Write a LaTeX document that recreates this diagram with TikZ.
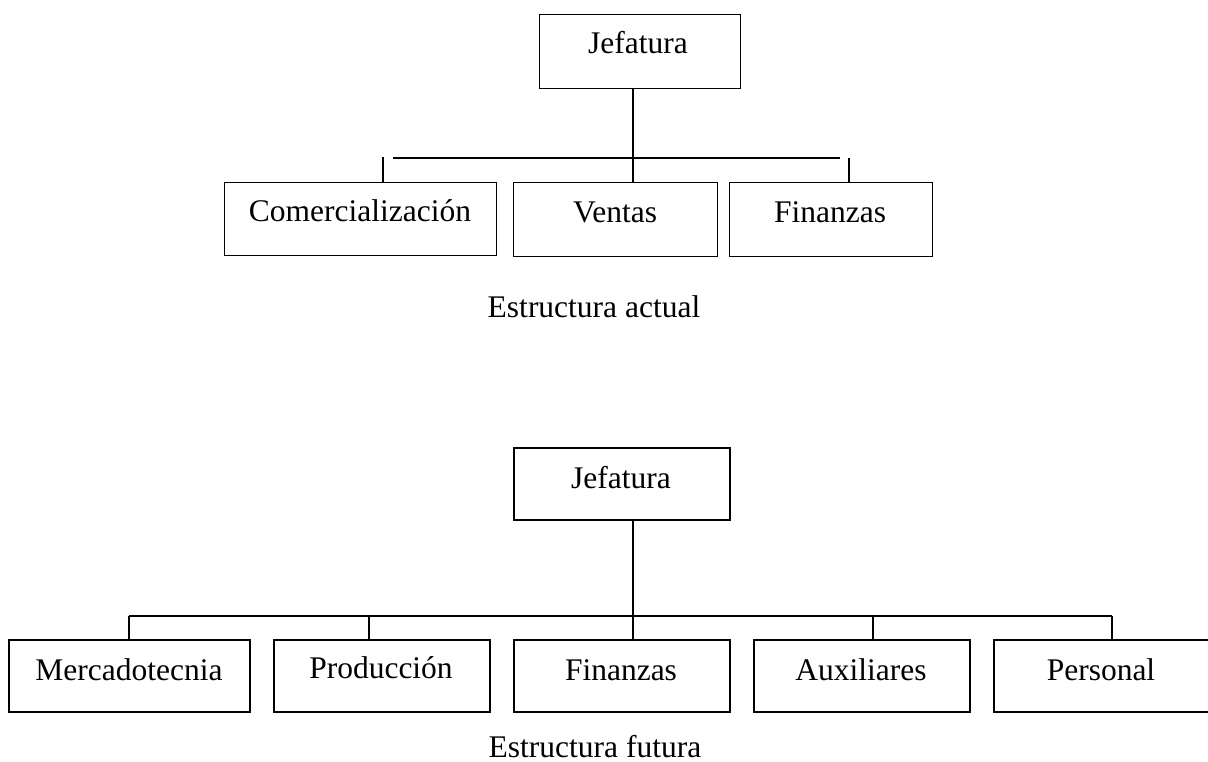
\documentclass[tikz,border=0pt]{standalone}
\usepackage{fontspec}
\setmainfont{Liberation Serif}
\begin{document}
\begin{tikzpicture}[x=1pt,y=-1pt,
  unitbox/.style n args={3}{draw, line width=#1, inner sep=0pt, anchor=north west,
    minimum width=#2, minimum height=#3},
  lbl/.style={anchor=base, inner sep=0pt, font=\fontsize{31.5}{36}\selectfont},
  linkA/.style={line width=1.2pt},
  linkB/.style={line width=1.5pt}]
% page
\fill[white] (0,0) rectangle (1208,762);
\useasboundingbox (0,0) rectangle (1208,762);

% ---------- current structure ----------
\node[unitbox={1.4pt}{201pt}{74pt}] (jefA) at (539,14) {};
\node[lbl] (jefAt) at (638,54) {Jefatura};
\node[unitbox={1.4pt}{272pt}{73pt}] (com) at (224,182) {};
\node[lbl] (comt) at (360,222) {Comercialización};
\node[unitbox={1.4pt}{204pt}{74pt}] (ven) at (513,182) {};
\node[lbl] (vent) at (615,223) {Ventas};
\node[unitbox={1.4pt}{203pt}{74pt}] (finA) at (729,182) {};
\node[lbl] (finAt) at (830,223) {Finanzas};
\node[lbl] (capA) at (594,317) {Estructura actual};

\coordinate (spA) at (633,0);
\coordinate (barAl) at (393,158);
\coordinate (barAr) at (840,158);
\coordinate (stubAl) at (383,157);
\coordinate (stubAr) at (849,158);
\draw[linkA] (jefA.south -| spA) -- (ven.north -| spA);
\draw[linkA] (barAl) -- (barAr);
\draw[linkA] (stubAl) -- (com.north -| stubAl);
\draw[linkA] (stubAr) -- (finA.north -| stubAr);

% ---------- future structure ----------
\node[unitbox={2pt}{216pt}{72pt}] (jefB) at (513,447) {};
\node[lbl] (jefBt) at (621,488) {Jefatura};
\node[unitbox={2pt}{241pt}{72pt}] (mer) at (8,639) {};
\node[lbl] (mert) at (129,680) {Mercadotecnia};
\node[unitbox={2pt}{216pt}{72pt}] (pro) at (273,639) {};
\node[lbl] (prot) at (381,678) {Producción};
\node[unitbox={2pt}{216pt}{72pt}] (finB) at (513,639) {};
\node[lbl] (finBt) at (621,680) {Finanzas};
\node[unitbox={2pt}{216pt}{72pt}] (aux) at (753,639) {};
\node[lbl] (auxt) at (861,680) {Auxiliares};
\node[unitbox={2pt}{220pt}{72pt}] (per) at (993,639) {};
\node[lbl] (pert) at (1101,680) {Personal};
\node[lbl] (capB) at (595,757) {Estructura futura};

\coordinate (spB) at (633,0);
\coordinate (barBl) at (129,616);
\coordinate (barBr) at (1112,616);
\coordinate (stubP) at (369,616);
\coordinate (stubX) at (873,616);
\draw[linkB] (jefB.south -| spB) -- (finB.north -| spB);
\draw[linkB] (barBl) -- (barBr);
\draw[linkB] (barBl) -- (mer.north -| barBl);
\draw[linkB] (stubP) -- (pro.north -| stubP);
\draw[linkB] (stubX) -- (aux.north -| stubX);
\draw[linkB] (barBr) -- (per.north -| barBr);
\end{tikzpicture}
\end{document}
